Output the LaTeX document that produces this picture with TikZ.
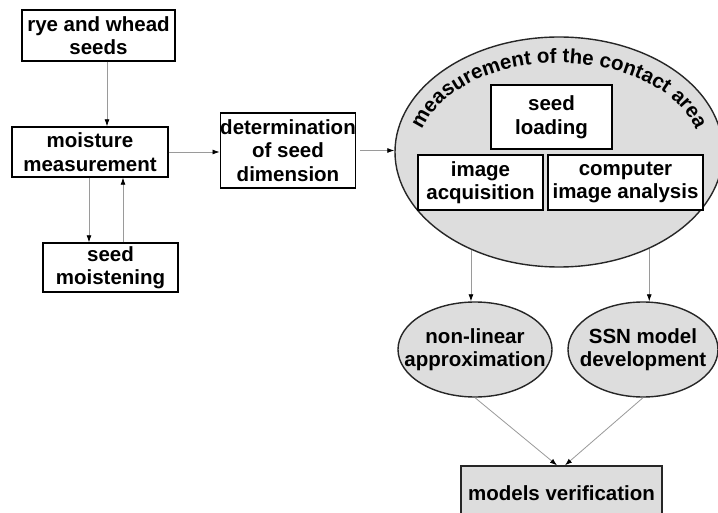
\documentclass[tikz,border=0pt]{standalone}
\usepackage{fontspec}
\setmainfont{Liberation Sans}
\usetikzlibrary{arrows.meta,shapes.geometric,decorations.text,calc}
\definecolor{fillgray}{HTML}{DDDDDD}
\definecolor{linegray}{HTML}{9A9A9A}
\tikzset{
  every node/.style={font=\fontsize{20.5}{23.5}\selectfont\bfseries, align=center, inner sep=0pt},
  box/.style={draw=black, line width=1.4pt, fill=white, rectangle},
  gbox/.style={draw=black!85, line width=1.4pt, fill=fillgray, rectangle},
  oval/.style={draw=black!85, line width=1.4pt, fill=fillgray, ellipse},
  conn/.style={draw=linegray, line width=0.8pt, -{Latex[length=7pt,width=5pt,color=black]}},
}
\begin{document}
\begin{tikzpicture}[x=1pt,y=-1pt]
\useasboundingbox (0,0) rectangle (718,513);
\clip (0,0) rectangle (718,513);
\fill[white] (0,0) rectangle (718,513);
% big ellipse
\node[oval, minimum width=328, minimum height=230] (contact) at (559,152) {};
\path[decorate, decoration={text along path, text align=center,
  text={|\fontsize{20.5}{23}\selectfont\bfseries|measurement of the contact area}}]
  ($(contact.center)+(-172:141 and 89)$) arc[start angle=-172, end angle=-8, x radius=141, y radius=89];
\node[box, minimum width=121, minimum height=64] (load) at (551.5,117) {seed\\loading};
\node[box, minimum width=125, minimum height=55] (acq) at (480.5,182.5) {image\\acquisition};
\node[box, minimum width=155, minimum height=55] (comp) at (625.5,182.5) {computer\\image analysis};
% left boxes
\node[box, minimum width=153, minimum height=51] (rye) at (98.5,35.5) {rye and whead\\seeds};
\node[box, minimum width=156, minimum height=50] (moist) at (90,152) {moisture\\measurement};
\node[box, minimum width=135, minimum height=49] (wet) at (110.5,267.5) {seed\\moistening};
\node[box, minimum width=132, minimum height=75] (det) at (288,150.5) {determination\\of seed\\dimension};
% lower
\node[oval, minimum width=154, minimum height=95] (nonlin) at (475,349.5) {};
\node (nonlintxt) at (nonlin.center) {non-linear\\approximation};
\node[oval, minimum width=150, minimum height=95] (ssn) at (643,349.5) {};
\node (ssntxt) at (ssn.center) {SSN model\\development};
\node[gbox, minimum width=201, minimum height=54] (verif) at (561.5,493) {models verification};
% connectors
\draw[conn] ([xshift=8.5pt]rye.south) -- ([xshift=17pt]moist.north);
\draw[conn] ([xshift=-1pt]moist.south) -- ([xshift=-21.5pt]wet.north);
\draw[conn] ([xshift=12.5pt]wet.north) -- ([xshift=33pt]moist.south);
\draw[conn] (moist.east) -- (moist.east -| det.west);
\draw[conn] ([xshift=4pt]det.east) -- (det.east -| contact.west);
\draw[conn] (contact.228.4) -- (contact.228.4 |- nonlin.north);
\draw[conn] (contact.313.2) -- (contact.313.2 |- ssn.north);
\draw[conn] (nonlin.south) -- ([xshift=-4.5pt]verif.north);
\draw[conn] (ssn.south) -- ([xshift=3.5pt]verif.north);
\end{tikzpicture}
\end{document}
